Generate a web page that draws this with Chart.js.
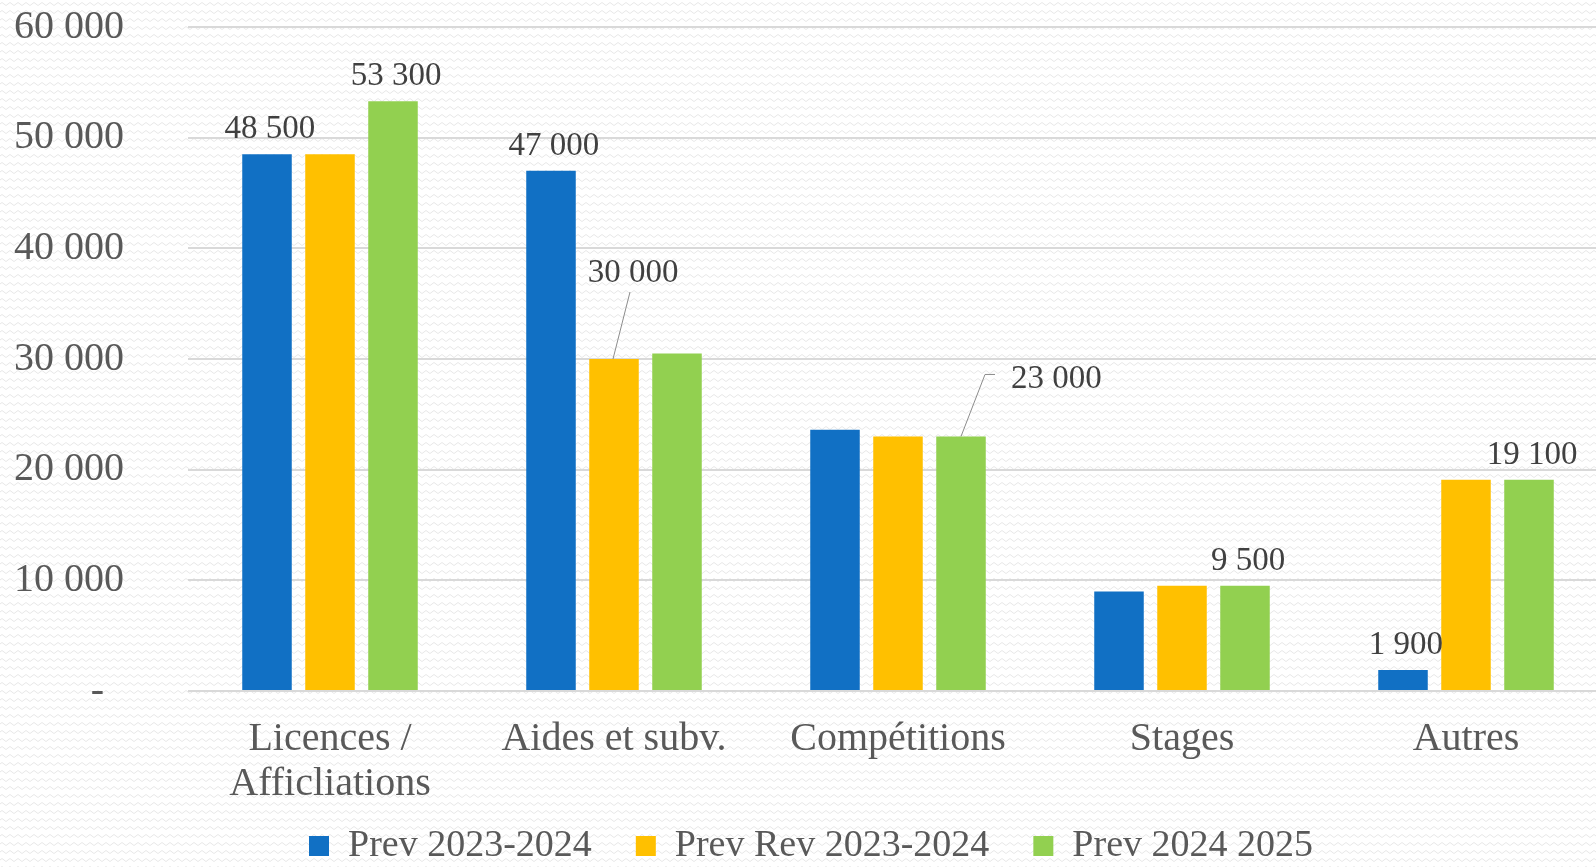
<!DOCTYPE html>
<html>
<head>
<meta charset="utf-8">
<script src="https://cdn.jsdelivr.net/npm/chart.js@4/dist/chart.umd.min.js"></script>
<style>
html,body{margin:0;padding:0;overflow:hidden;width:1596px;height:867px;}
body{background:#fff url("data:image/svg+xml,%3Csvg xmlns='http://www.w3.org/2000/svg' width='8' height='8'%3E%3Cpath d='M0 4 Q2 1 4 4 T8 4' fill='none' stroke='%23e4e4e4' stroke-width='0.9'/%3E%3C/svg%3E");}
#wrap{position:absolute;left:0;top:0;width:1610px;height:867px;}
</style>
</head>
<body>
<div id="wrap"><canvas id="c"></canvas></div>
<script>
const categories = [['Licences /','Afficliations'],'Aides et subv.','Compétitions','Stages','Autres'];
const seriesNames = ['Prev 2023-2024','Prev Rev 2023-2024','Prev 2024 2025'];
const prev2324    = [48500, 47000, 23600, 9000, 1900];
const prevRev2324 = [48500, 30000, 23000, 9500, 19100];
const prev2425    = [53300, 30500, 23000, 9500, 19100];
const yTicks = [0, 10000, 20000, 30000, 40000, 50000, 60000];
// which values get a label: [dataset, index, style]
const shownLabels = [[0,0,'top'],[2,0,'top'],[0,1,'top'],[1,1,'leaderUp'],[2,2,'leaderRight'],[2,3,'top'],[0,4,'top'],[2,4,'top']];

const colors = ['#1170c4','#ffc000','#92d050'];
const FONT = "'Liberation Serif', 'Times New Roman', serif";
const fmt = v => v === 0 ? '-  ' : String(v).replace(/\B(?=(\d{3})+(?!\d))/g, ' ');

const valueLabels = {
  id:'valueLabels',
  afterDatasetsDraw(chart){
    const ctx = chart.ctx;
    ctx.save();
    ctx.font = '33px ' + FONT;
    ctx.fillStyle = '#404040';
    ctx.strokeStyle = '#8c8c8c';
    ctx.lineWidth = 1;
    ctx.textBaseline = 'alphabetic';
    shownLabels.forEach(([d,i,kind])=>{
      const el = chart.getDatasetMeta(d).data[i];
      const txt = fmt(chart.data.datasets[d].data[i]);
      if(kind==='top'){
        ctx.textAlign='center';
        ctx.fillText(txt, el.x+3, el.y-16);
      } else if(kind==='leaderUp'){
        ctx.beginPath(); ctx.moveTo(el.x-1, el.y); ctx.lineTo(el.x+16, el.y-67); ctx.stroke();
        ctx.textAlign='center';
        ctx.fillText(txt, el.x+19, el.y-77);
      } else {
        ctx.beginPath(); ctx.moveTo(el.x, el.y); ctx.lineTo(el.x+24, el.y-62); ctx.lineTo(el.x+34, el.y-62); ctx.stroke();
        ctx.textAlign='left';
        ctx.fillText(txt, el.x+50, el.y-48);
      }
    });
    ctx.restore();
  }
};

new Chart(document.getElementById('c'),{
  type:'bar',
  data:{
    labels:categories,
    datasets:[
      {label:seriesNames[0],data:prev2324,backgroundColor:colors[0]},
      {label:seriesNames[1],data:prevRev2324,backgroundColor:colors[1]},
      {label:seriesNames[2],data:prev2425,backgroundColor:colors[2]}
    ]
  },
  options:{
    responsive:true,
    maintainAspectRatio:false,
    animation:false,
    categoryPercentage:0.6655,
    barPercentage:0.786,
    layout:{padding:{top:27,left:14,right:2,bottom:-8}},
    plugins:{
      legend:{
        position:'bottom',
        labels:{
          boxWidth:20,boxHeight:20,padding:6,color:'#595959',font:{family:FONT,size:38},
          // wider gap between items without extra vertical padding
          generateLabels(chart){
            const items = Chart.defaults.plugins.legend.labels.generateLabels(chart);
            items.forEach((it,k)=>{ if(k<items.length-1) it.text += '    '; });
            return items;
          }
        }
      },
      tooltip:{enabled:false}
    },
    scales:{
      x:{
        grid:{display:false},
        border:{display:false},
        ticks:{color:'#595959',padding:18,font:{family:FONT,size:40,lineHeight:1.125},maxRotation:0,autoSkip:false},
        afterFit(s){ s.height = 130; }
      },
      y:{
        min:0,max:60000,
        afterBuildTicks(s){ s.ticks = yTicks.map(v=>({value:v})); },
        grid:{color:'#d9d9d9',lineWidth:2,drawTicks:false},
        border:{display:false},
        ticks:{color:'#595959',padding:64,font:{family:FONT,size:40},callback:v=>fmt(v)},
        afterFit(s){ s.width = 174; s.paddingTop = 20; s.paddingBottom = 20; }
      }
    }
  },
  plugins:[valueLabels]
});
</script>
</body>
</html>
